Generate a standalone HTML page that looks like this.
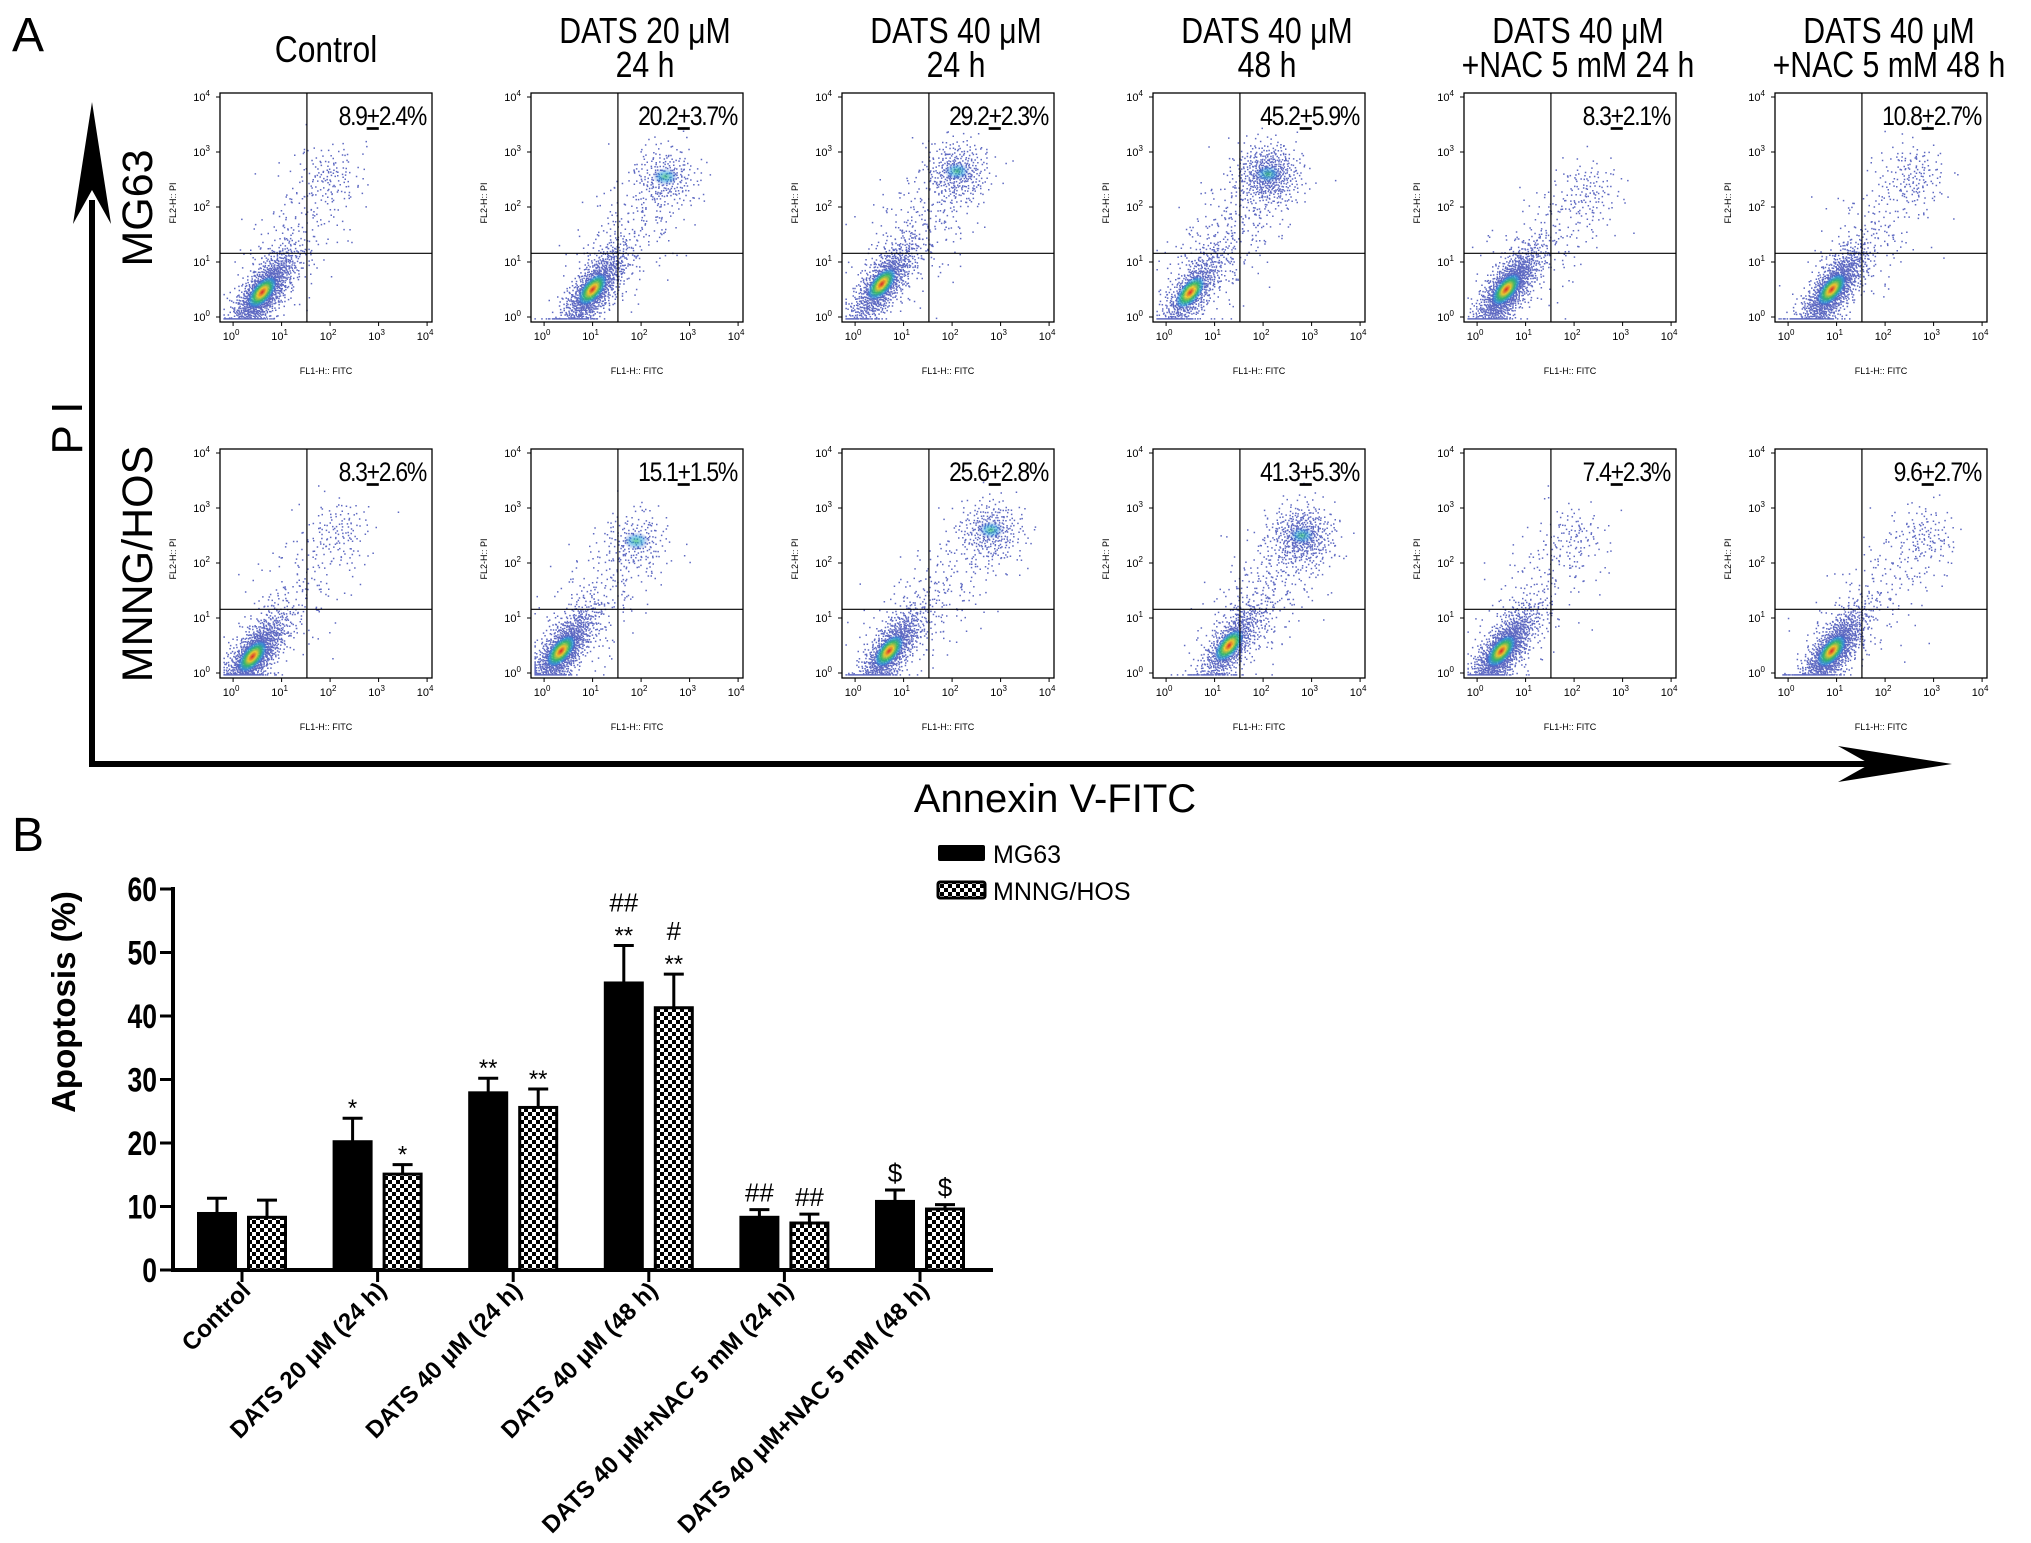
<!DOCTYPE html>
<html><head><meta charset="utf-8"><style>
html,body{margin:0;padding:0;background:#fff;}
svg{display:block;font-family:"Liberation Sans",sans-serif;}
</style></head><body>
<svg id="fig" width="2031" height="1543" viewBox="0 0 2031 1543" xmlns="http://www.w3.org/2000/svg">
<defs>
<pattern id="chk" width="8" height="8" patternUnits="userSpaceOnUse">
<rect width="8" height="8" fill="#fff"/><rect width="4" height="4" fill="#000"/><rect x="4" y="4" width="4" height="4" fill="#000"/>
</pattern>
<radialGradient id="core">
<stop offset="0" stop-color="#d22" stop-opacity="0.95"/>
<stop offset="0.3" stop-color="#f5d020" stop-opacity="0.9"/>
<stop offset="0.55" stop-color="#2cc060" stop-opacity="0.85"/>
<stop offset="0.8" stop-color="#20a0e0" stop-opacity="0.6"/>
<stop offset="1" stop-color="#2040c0" stop-opacity="0"/>
</radialGradient>
<radialGradient id="core2">
<stop offset="0" stop-color="#2cc070" stop-opacity="0.7"/>
<stop offset="0.5" stop-color="#20a0e0" stop-opacity="0.5"/>
<stop offset="1" stop-color="#2040c0" stop-opacity="0"/>
</radialGradient>
</defs>
<text x="12" y="51" font-size="48">A</text>
<text x="12" y="851" font-size="48">B</text>
<g id="panelA"></g>
<g id="panelB"></g>
</svg>
<script>
const NS="http://www.w3.org/2000/svg";
// ---- Panel A data ----
const colTitles1=["Control","DATS 20 μM","DATS 40 μM","DATS 40 μM","DATS 40 μM","DATS 40 μM"];
const colTitles2=["","24 h","24 h","48 h","+NAC 5 mM  24 h","+NAC 5 mM  48 h"];
const rowNames=["MG63","MNNG/HOS"];
const pctMean=[[8.9,20.2,29.2,45.2,8.3,10.8],[8.3,15.1,25.6,41.3,7.4,9.6]];
const pctErr=[[2.4,3.7,2.3,5.9,2.1,2.7],[2.6,1.5,2.8,5.3,2.3,2.7]];
const liveX=[[0.6,1.0,0.55,0.5,0.6,0.9],[0.4,0.35,0.7,1.3,0.5,0.9]];
const liveY=[[0.45,0.5,0.6,0.45,0.5,0.5],[0.3,0.4,0.4,0.5,0.4,0.4]];
const apoX=[[2.0,2.5,2.1,2.1,2.3,2.6],[2.2,1.9,2.8,2.8,2.0,2.8]];
const apoY=[[2.6,2.55,2.65,2.6,2.3,2.6],[2.6,2.4,2.6,2.5,2.5,2.5]];
// ---- Panel B data ----
const groups=["Control","DATS 20 μM (24 h)","DATS 40 μM (24 h)","DATS 40 μM (48 h)","DATS 40 μM+NAC 5 mM (24 h)","DATS 40 μM+NAC 5 mM (48 h)"];
const mg63=[8.9,20.2,27.9,45.2,8.3,10.8];
const mg63Err=[2.4,3.7,2.3,5.9,1.2,1.8];
const hos=[8.3,15.1,25.6,41.3,7.4,9.6];
const hosErr=[2.7,1.5,2.9,5.3,1.4,0.7];
const mg63Sig=["","*","**","**|##","##","$"];
const hosSig=["","*","**","**|#","##","$"];
const yTicks=[0,10,20,30,40,50,60];

function el(tag,attrs,parent,text){const e=document.createElementNS(NS,tag);for(const k in attrs)e.setAttribute(k,attrs[k]);if(text!==undefined)e.textContent=text;parent.appendChild(e);return e;}

const A=document.getElementById('panelA');
const bigAx=el('g',{},A);


el('line',{x1:92,y1:200,x2:92,y2:766,stroke:'#000','stroke-width':6},bigAx);
el('line',{x1:89,y1:764,x2:1900,y2:764,stroke:'#000','stroke-width':6},bigAx);
el('path',{d:'M92 102 L111 224 L92 190 L73 224 Z',fill:'#000'},bigAx);
el('path',{d:'M1952 764 L1838 746 L1870 764 L1838 782 Z',fill:'#000'},bigAx);
let t=el('text',{x:0,y:0,'font-size':44,'text-anchor':'middle',transform:'translate(82,428) rotate(-90)'},A,'P I');

t=el('text',{x:1055,y:812,'font-size':40,'text-anchor':'middle'},A,'Annexin V-FITC');

const rowTop=[93,449];
rowNames.forEach((n,r)=>{
  const tt=el('text',{x:0,y:0,'font-size':43,'text-anchor':'middle',transform:`translate(152,${rowTop[r]+115}) rotate(-90)`},A,n);
  
  
});
const PW=212,PH=229;
colTitles1.forEach((c,i)=>{
  const cx=220+311*i+PW/2+(i===0?0:8);
  if(colTitles2[i]===""){
    const tt=el('text',{x:0,y:0,'font-size':37,'text-anchor':'middle',transform:`translate(${cx},62) scale(0.86,1)`},A,c);
    
  }else{
    const tt=el('text',{x:0,y:0,'font-size':36,'text-anchor':'middle',transform:`translate(${cx},43) scale(0.84,1)`},A,c);
    
    const t2=el('text',{x:0,y:0,'font-size':36,'text-anchor':'middle','xml:space':'preserve',transform:`translate(${cx},77) scale(0.84,1)`},A,colTitles2[i]);
    
  }
});
function halton(i,b){let f=1,r=0;while(i>0){f/=b;r+=f*(i%b);i=Math.floor(i/b);}return r;}
function gpair(i){const u=Math.max(1e-4,halton(i+1,2)),v=halton(i+1,3);const m=Math.sqrt(-2*Math.log(u));return [m*Math.cos(2*Math.PI*v),m*Math.sin(2*Math.PI*v)];}
for(let r=0;r<2;r++)for(let c=0;c<6;c++){
  const L=220+311*c,T=rowTop[r];
  const g=el('g',{},A);
  
  
  const X=d=>L+(d+0.27)*48.5, Y=d=>T+PH-5-d*55;
  let d='';
  const frac=pctMean[r][c]/100;
  const N=1600;
  let seed=r*6000+c*1000;
  for(let k=0;k<N;k++){
    const [a,b]=gpair(seed+k);
    let x,y;const q=k/N;
    if(q<1-frac-0.12){x=liveX[r][c]+0.32*a+0.14*b;y=liveY[r][c]+0.38*a-0.12*b;}
    else if(q<1-frac*0.7){const s=halton(seed+k+7,5);x=liveX[r][c]+(apoX[r][c]-liveX[r][c])*s+0.45*a;y=liveY[r][c]+(apoY[r][c]-liveY[r][c])*s+0.4*b;}
    else{x=apoX[r][c]+0.32*a;y=apoY[r][c]+0.28*b;}
    y=Math.max(-0.02,Math.min(3.9,y));x=Math.max(-0.2,Math.min(3.9,x));
    d+=`M${X(x).toFixed(1)} ${Y(y).toFixed(1)}h1.5v1.5h-1.5z`;
  }
  el('path',{d:d,fill:'#1a2aa8','fill-opacity':0.7},g);
  el('ellipse',{cx:X(liveX[r][c]),cy:Y(liveY[r][c]),rx:20,ry:10,fill:'url(#core)',transform:`rotate(-50 ${X(liveX[r][c])} ${Y(liveY[r][c])})`},g);
  if(frac>0.15)el('ellipse',{cx:X(apoX[r][c]),cy:Y(apoY[r][c]),rx:13,ry:9,fill:'url(#core2)'},g);
  el('rect',{x:L,y:T,width:PW,height:PH,fill:'none',stroke:'#000','stroke-width':1.3},g);
  el('line',{x1:L+0.41*PW,y1:T,x2:L+0.41*PW,y2:T+PH,stroke:'#000','stroke-width':1.2},g);
  el('line',{x1:L,y1:T+0.70*PH,x2:L+PW,y2:T+0.70*PH,stroke:'#000','stroke-width':1.2},g);
  for(let k=0;k<=4;k++){
    const tx=el('text',{x:X(k)-2,y:T+PH+18,'font-size':11,'text-anchor':'middle'},g,'10');
    el('tspan',{dy:-5,'font-size':8},tx,String(k));
    const ty=el('text',{x:L-10,y:Y(k)+4,'font-size':11,'text-anchor':'end'},g,'10');
    el('tspan',{dy:-5,'font-size':8},ty,String(k));
    el('line',{x1:X(k),y1:T+PH,x2:X(k),y2:T+PH+4,stroke:'#000'},g);
    el('line',{x1:L,y1:Y(k),x2:L-4,y2:Y(k),stroke:'#000'},g);
  }
  el('text',{x:L+PW/2,y:T+PH+52,'font-size':9,'text-anchor':'middle'},g,'FL1-H:: FITC');
  el('text',{x:0,y:0,'font-size':9,'text-anchor':'middle',transform:`translate(${L-44},${T+110}) rotate(-90)`},g,'FL2-H:: PI');
  const pt=el('text',{x:0,y:0,'font-size':27,'text-anchor':'end','letter-spacing':-1.5,transform:`translate(${L+PW-6},${T+32}) scale(0.85,1)`},g);
  
  
  el('tspan',{},pt,pctMean[r][c].toFixed(1));
  el('tspan',{'text-decoration':'underline'},pt,'+');
  el('tspan',{},pt,pctErr[r][c].toFixed(1)+'%');
}

// ---- Panel B ----
const B=document.getElementById('panelB');
const x0=173,x1=993,y0=1270,yTop=889;
const yS=v=>y0-(v/60)*(y0-yTop);
const gx=i=>242+135.6*i;
el('line',{x1:x0,y1:yTop-2,x2:x0,y2:y0+2,stroke:'#000','stroke-width':4},B);
el('line',{x1:x0,y1:y0,x2:x1,y2:y0,stroke:'#000','stroke-width':4},B);
yTicks.forEach(v=>{
  el('line',{x1:x0-13,y1:yS(v),x2:x0,y2:yS(v),stroke:'#000','stroke-width':3},B);
  const tt=el('text',{x:0,y:0,'font-size':34,'font-weight':'bold','text-anchor':'end',transform:`translate(157,${yS(v)+12}) scale(0.78,1)`},B,String(v));
  
});
t=el('text',{x:0,y:0,'font-size':33,'font-weight':'bold','text-anchor':'middle',transform:'translate(75,1002) rotate(-90)'},B,'Apoptosis (%)');

function bar(cx,v,e,fill,name,sig){
  const rr=el('rect',{x:cx-18.5,y:yS(v),width:37,height:y0-yS(v),fill:fill,stroke:'#000','stroke-width':3},B);
  
  
  el('line',{x1:cx,y1:yS(v),x2:cx,y2:yS(v+e),stroke:'#000','stroke-width':3},B);
  el('line',{x1:cx-10,y1:yS(v+e),x2:cx+10,y2:yS(v+e),stroke:'#000','stroke-width':3},B);
  if(sig){
    const parts=sig.split('|');
    parts.forEach((s,j)=>{
      const yy=yS(v+e)-8-j*26;
      const st=el('text',{x:cx,y:yy+(s.includes('*')?6:0),'font-size':s.includes('*')?24:26,'text-anchor':'middle'},B,s);
      
      
    });
  }
}
groups.forEach((gname,i)=>{
  bar(gx(i)-25,mg63[i],mg63Err[i],'#000','bar-mg63',mg63Sig[i]);
  bar(gx(i)+25,hos[i],hosErr[i],'url(#chk)','bar-mnng-hos',hosSig[i]);
  el('line',{x1:gx(i),y1:y0,x2:gx(i),y2:y0+12,stroke:'#000','stroke-width':3},B);
  const tt=el('text',{x:0,y:0,'font-size':24,'font-weight':'bold','text-anchor':'end',transform:`translate(${gx(i)+10},${y0+22}) rotate(-45)`},B,gname);
  
  
});
const lg=el('g',{},B);


el('rect',{x:938,y:845,width:47,height:16,rx:2,fill:'#000'},lg);
el('text',{x:993,y:863,'font-size':25},lg,'MG63');
el('rect',{x:938,y:882,width:47,height:16,rx:2,fill:'url(#chk)',stroke:'#000','stroke-width':3},lg);
el('text',{x:993,y:900,'font-size':25},lg,'MNNG/HOS');
</script>
</body></html>
